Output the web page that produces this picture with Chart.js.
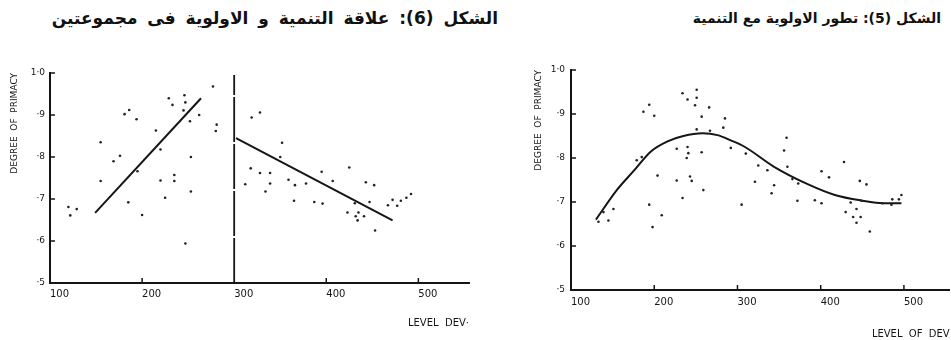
<!DOCTYPE html>
<html>
<head>
<meta charset="utf-8">
<script src="https://cdn.jsdelivr.net/npm/chart.js@4.4.1/dist/chart.umd.min.js"></script>
<style>
  html, body { margin: 0; padding: 0; background: #fff; }
  body { width: 951px; height: 340px; position: relative; overflow: hidden; }
  .title { position: absolute; direction: rtl; font-family: "DejaVu Sans", sans-serif; font-weight: bold; line-height: 26px; color: #111; white-space: nowrap; }
  #t1 { right: 453px; top: 5px; font-size: 17px; word-spacing: 4px; }
  #t2 { right: 10px; top: 5px; font-size: 14px; word-spacing: 0; }
  #c1 { position: absolute; left: 0; top: 0; }
  #c2 { position: absolute; left: 490px; top: 0; }
</style>
</head>
<body>
<div class="title" id="t1">الشكل (6): علاقة التنمية و الاولوية فى مجموعتين</div>
<div class="title" id="t2">الشكل (5): تطور الاولوية مع التنمية</div>
<canvas id="c1" width="490" height="340"></canvas>
<canvas id="c2" width="461" height="340"></canvas>
<script>
// ---------- data ----------
const xTickValues = [100, 200, 300, 400, 500];
const xTickLabels = ['100', '200', '300', '400', '500'];
const yTickLabels = ['·5', '·6', '·7', '·8', '·9', '1·0'];

// Figure 6: group below 300
const leftLowX = [155, 181, 186, 194, 215, 229, 233, 246, 247, 245, 252, 262, 277, 281, 280, 220, 176, 169, 253, 195, 155, 220, 235, 235, 120, 129, 122, 185, 200, 225, 253, 247];
const leftLowY = [.835, .902, .912, .890, .863, .940, .924, .947, .930, .911, .885, .900, .968, .877, .862, .818, .803, .790, .800, .766, .743, .744, .757, .743, .681, .676, .661, .692, .662, .703, .718, .594];
// Figure 6: group above 300
const leftHighX = [328, 319, 352, 350, 318, 328, 339, 312, 339, 359, 366, 378, 395, 407, 425, 443, 452, 334, 365, 387, 396, 431, 447, 423, 435, 432, 441, 434, 453, 467, 472, 477, 481, 487, 492];
const leftHighY = [.906, .894, .834, .800, .773, .762, .762, .735, .737, .746, .733, .737, .765, .743, .775, .740, .733, .718, .696, .693, .689, .690, .693, .668, .668, .659, .659, .649, .625, .685, .698, .684, .696, .703, .712];
// Figure 6: fitted lines and divider
const leftFitLowX = [149, 264];
const leftFitLowY = [.667, .940];
const leftFitHighX = [302, 472];
const leftFitHighY = [.845, .649];
const dividerX = [300, 300];
const dividerY = [.5, .995];

// Figure 5: all countries
const rightX = [187, 194, 200, 234, 240, 251, 251, 249, 257, 266, 285, 251, 267, 283, 292, 227, 240, 241, 239, 257, 179, 185, 204, 227, 243, 245, 259, 133, 139, 151, 145, 194, 198, 209, 234, 310, 325, 336, 321, 344, 359, 356, 360, 366, 373, 401, 410, 428, 447, 455, 305, 341, 372, 393, 401, 436, 449, 430, 443, 439, 448, 443, 459, 474, 485, 486, 494, 497];
const rightY = [.905, .921, .896, .947, .933, .955, .937, .920, .894, .915, .890, .865, .862, .869, .823, .821, .825, .811, .800, .813, .795, .802, .760, .749, .758, .748, .727, .655, .677, .684, .658, .694, .643, .670, .709, .810, .783, .772, .746, .738, .846, .817, .780, .752, .742, .770, .756, .791, .748, .740, .694, .720, .703, .704, .697, .699, .703, .677, .684, .666, .666, .653, .633, .697, .694, .706, .706, .716];
// Figure 5: fitted curve
const curveX = [130, 155, 175, 196, 216, 235, 258, 276, 292, 309, 344, 385, 417, 450, 471, 497];
const curveY = [.660, .727, .770, .815, .838, .850, .856, .852, .840, .825, .780, .740, .716, .703, .698, .697];

// ---------- helpers ----------
const zip = (xs, ys) => xs.map((x, i) => ({ x, y: ys[i] }));
const INK = '#151515';
Chart.defaults.font.family = '"DejaVu Sans", sans-serif';
Chart.defaults.color = INK;

const tickMarks = {
  id: 'tickMarks',
  afterDraw(chart, args, opts) {
    const { ctx, scales: { x, y } } = chart;
    ctx.save();
    ctx.strokeStyle = INK;
    ctx.lineWidth = 1.5;
    x.ticks.forEach(t => {
      if (t.value <= x.min || (opts.skipX || []).includes(t.value)) return;
      const px = x.getPixelForValue(t.value);
      ctx.beginPath(); ctx.moveTo(px, y.bottom); ctx.lineTo(px, y.bottom - 5); ctx.stroke();
    });
    y.ticks.forEach(t => {
      if (t.value <= y.min + 1e-6) return;
      const py = y.getPixelForValue(t.value);
      ctx.beginPath(); ctx.moveTo(x.left, py); ctx.lineTo(x.left + 5, py); ctx.stroke();
    });
    ctx.restore();
  }
};

function makeScales(cfg) {
  return {
    x: {
      type: 'linear', min: 100, max: 555,
      grid: { display: false, drawTicks: false },
      border: { display: true, color: INK, width: 2 },
      ticks: {
        stepSize: 100, includeBounds: false, align: 'start', padding: cfg.xPad,
        font: { size: 10 }, color: INK, maxRotation: 0,
        callback: v => { const i = xTickValues.indexOf(v); return i >= 0 ? xTickLabels[i] : ''; }
      },
      title: { display: true, text: cfg.xTitle, align: 'end', font: { size: 10 }, color: INK, padding: { top: 0, bottom: 0 } },
      afterFit: s => { s.height = cfg.xHeight; }
    },
    y: {
      type: 'linear', min: 0.5, max: 1.0,
      grid: { display: false, drawTicks: false },
      border: { display: true, color: INK, width: 2 },
      ticks: {
        stepSize: 0.1, padding: cfg.yPad, font: { size: 9 }, color: INK,
        callback: v => yTickLabels[Math.round(v * 10) - 5]
      },
      title: { display: true, text: 'DEGREE  OF  PRIMACY', align: 'end', font: { size: 9 }, color: INK, padding: { top: 0, bottom: 0 } },
      afterFit: s => { s.width = cfg.yWidth; }
    }
  };
}

const dotStyle = { showLine: false, pointRadius: 1.3, pointHoverRadius: 1.3, pointBackgroundColor: '#222', pointBorderWidth: 0 };
const lineStyle = { showLine: true, pointRadius: 0, borderColor: INK, borderWidth: 2, fill: false };

new Chart(document.getElementById('c1'), {
  type: 'scatter',
  data: {
    datasets: [
      { data: zip(leftLowX, leftLowY), ...dotStyle },
      { data: zip(leftHighX, leftHighY), ...dotStyle },
      { data: zip(leftFitLowX, leftFitLowY), ...lineStyle },
      { data: zip(leftFitHighX, leftFitHighY), ...lineStyle },
      { data: zip(dividerX, dividerY), ...lineStyle, borderWidth: 1.8, borderDash: [45, 2] }
    ]
  },
  options: {
    responsive: false, animation: false,
    layout: { padding: { top: 73, left: 9, right: 21, bottom: 11 } },
    plugins: { legend: { display: false }, tooltip: { enabled: false }, tickMarks: { skipX: [300] } },
    scales: makeScales({ xTitle: 'LEVEL  DEV·', xPad: 5, xHeight: 46, yPad: 5, yWidth: 41 })
  },
  plugins: [tickMarks]
});

new Chart(document.getElementById('c2'), {
  type: 'scatter',
  data: {
    datasets: [
      { data: zip(rightX, rightY), ...dotStyle },
      { data: zip(curveX, curveY), ...lineStyle, tension: 0.4, cubicInterpolationMode: 'monotone' }
    ]
  },
  options: {
    responsive: false, animation: false,
    layout: { padding: { top: 70, left: 43, right: 0, bottom: 0 } },
    plugins: { legend: { display: false }, tooltip: { enabled: false }, tickMarks: { skipX: [] } },
    scales: makeScales({ xTitle: 'LEVEL  OF  DEV', xPad: 6, xHeight: 50, yPad: 6, yWidth: 38 })
  },
  plugins: [tickMarks]
});
</script>
</body>
</html>
